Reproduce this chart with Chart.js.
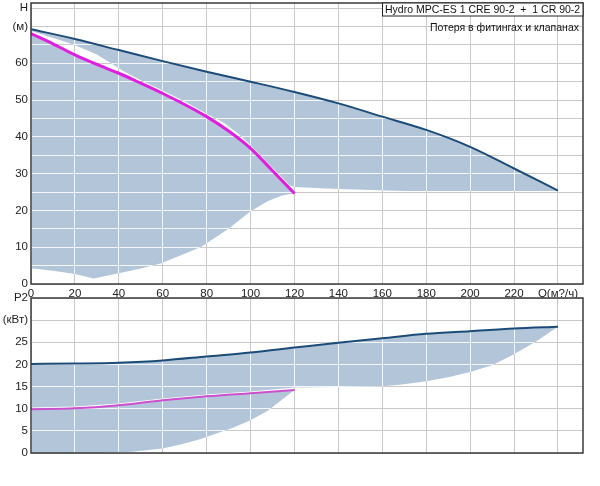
<!DOCTYPE html>
<html>
<head>
<meta charset="utf-8">
<script src="https://cdn.jsdelivr.net/npm/chart.js@4.4.0/dist/chart.umd.min.js"></script>
<style>
  body { margin: 0; background: #fff; width: 600px; height: 486px; overflow: hidden; position: relative; }
  canvas { position: absolute; left: 0; }
  #headChart { top: 0; }
  #powerChart { top: 290px; }
</style>
</head>
<body>
<canvas id="headChart" width="600" height="300"></canvas>
<canvas id="powerChart" width="600" height="196"></canvas>
<script>
// Flow axis (m3/h), shared by both charts
const qTicks = [0, 20, 40, 60, 80, 100, 120, 140, 160, 180, 200, 220, 240];
const qLabels = ['0', '20', '40', '60', '80', '100', '120', '140', '160', '180', '200', '220', 'Q(м?/ч)'];

// Head chart axis
const hTicks = [0, 5, 10, 15, 20, 25, 30, 35, 40, 45, 50, 55, 60, 65, 70, 75];
const hLabels = ['0', '', '10', '', '20', '', '30', '', '40', '', '50', '', '60', '', '(м)', 'H'];

// Head: both pumps running (dark blue)
const qTwo = [0, 20, 40, 60, 80, 100, 120, 140, 160, 180, 200, 220, 240];
const hTwo = [69.3, 66.6, 63.6, 60.6, 57.7, 55.0, 52.2, 49.1, 45.5, 41.9, 37.3, 31.4, 25.4];
// Head: one pump (magenta)
const qOne = [0, 10, 20, 30, 40, 50, 60, 70, 80, 90, 100, 110, 120];
const hOne = [68.1, 65.3, 62.3, 59.7, 57.3, 54.6, 51.8, 48.8, 45.5, 41.6, 36.9, 30.8, 24.6];
// lower edges of the shaded operating areas
const qTwoEdge = [0, 8, 19, 30, 42, 50, 60, 70, 80, 88, 95, 100, 110, 118, 120, 140, 170, 240];
const hTwoEdge = [68.8, 67.3, 65.2, 62.4, 57.9, 55.4, 52.6, 49.6, 46.3, 43.8, 40.6, 37.7, 31.6, 26.8, 26.4, 25.8, 25.3, 25.3];
const qOneEdge = [0, 10, 20, 28.5, 40, 50, 59, 70, 77.6, 90, 100, 108, 114, 120];
const hOneEdge = [4.3, 3.6, 2.7, 1.5, 2.9, 4.2, 5.6, 8.2, 10.1, 15.0, 19.8, 22.6, 24.0, 24.7];

// Power chart axis
const pTicks = [0, 5, 10, 15, 20, 25, 30, 35];
const pLabels = ['0', '5', '10', '15', '20', '25', '(кВт)', 'P2'];

// Power P2
const pTwo = [20.1, 20.2, 20.4, 20.9, 21.8, 22.7, 23.8, 24.9, 25.9, 26.9, 27.5, 28.1, 28.5];
const qP1 = [0, 20, 40, 60, 80, 100, 120];
const pOne = [9.9, 10.1, 10.8, 11.9, 12.8, 13.5, 14.2];
const qP2Edge = [0, 20, 40, 60, 80, 100, 120, 140, 160, 168, 180, 190, 200, 210, 220, 230, 240];
const pTwoEdge = [10.3, 10.5, 11.2, 12.3, 13.2, 13.9, 14.8, 14.9, 15.1, 15.4, 16.2, 17.1, 18.3, 19.8, 22.3, 25.2, 28.5];
const qP1Edge = [0, 30, 46, 60, 68, 77, 92, 100, 108, 115, 120];
const pOneEdge = [0, 0, 0.3, 1.0, 1.9, 3.1, 5.7, 7.4, 9.6, 12.3, 14.2];

const legendTitle = 'Hydro MPC-ES 1 CRE 90-2  +  1 CR 90-2';
const legendNote = 'Потеря в фитингах и клапанах';

const AREA = '#b3c6d9';
const BLUE = '#1d4b78';
const GRID = '#c9c9c9';

Chart.defaults.font.family = 'Liberation Sans';
Chart.defaults.font.size = 11.5;
Chart.defaults.color = '#222';

function pts(qs, vs) {
    return qs.map((q, i) => ({ x: q, y: vs[i] }));
}

// closed outline: top edge left->right, then lower edge back
function area(qTop, vTop, qLow, vLow) {
    return pts(qTop, vTop).concat(pts(qLow, vLow).reverse());
}

function curve(data, color, width) {
    return { data: data, borderColor: color, borderWidth: width, pointRadius: 0, fill: false,
             cubicInterpolationMode: 'monotone' };
}

function shaded(data) {
    return { data: data, borderColor: 'rgba(0,0,0,0)', borderWidth: 0, backgroundColor: AREA, pointRadius: 0, fill: 'shape' };
}

// grid lines show white where they cross the shaded area
const whiteGrid = {
    id: 'whiteGrid',
    afterDatasetDraw(chart, args) {
        if (args.index !== 2) return;
        const ctx = chart.ctx, a = chart.chartArea;
        const al = v => Math.round(v - 0.5) + 0.5;
        ctx.save();
        ctx.beginPath();
        [2, 3].forEach(i => {
            chart.getDatasetMeta(i).data.forEach((p, k) => k ? ctx.lineTo(p.x, p.y) : ctx.moveTo(p.x, p.y));
            ctx.closePath();
        });
        ctx.clip();
        ctx.strokeStyle = '#f4f7fa';
        ctx.lineWidth = 1;
        ctx.beginPath();
        chart.scales.x.ticks.forEach(t => {
            const x = al(chart.scales.x.getPixelForValue(t.value));
            ctx.moveTo(x, a.top); ctx.lineTo(x, a.bottom);
        });
        chart.scales.y.ticks.forEach(t => {
            const y = al(chart.scales.y.getPixelForValue(t.value));
            ctx.moveTo(a.left, y); ctx.lineTo(a.right, y);
        });
        ctx.stroke();
        ctx.restore();
    }
};

const frame = {
    id: 'frame',
    afterDraw(chart) {
        const ctx = chart.ctx, a = chart.chartArea;
        ctx.save();
        ctx.strokeStyle = '#3a3a3a';
        ctx.lineWidth = 1.5;
        ctx.strokeRect(a.left, a.top, a.right - a.left, a.bottom - a.top);
        ctx.restore();
    }
};

const legendBox = {
    id: 'legendBox',
    afterDraw(chart) {
        const ctx = chart.ctx, a = chart.chartArea;
        ctx.save();
        ctx.font = '10.5px "Liberation Sans"';
        ctx.fillStyle = '#fff';
        ctx.fillRect(382, a.top, a.right - 382, 13);
        ctx.strokeStyle = '#222';
        ctx.lineWidth = 1;
        ctx.strokeRect(382.5, a.top, a.right - 382.5, 13);
        ctx.fillStyle = '#111';
        ctx.textBaseline = 'middle';
        ctx.textAlign = 'left';
        ctx.fillText(legendTitle, 385, a.top + 7);
        ctx.textAlign = 'right';
        ctx.fillText(legendNote, a.right - 4, a.top + 25);
        ctx.restore();
    }
};

function xScale(showLabels, height) {
    return {
        type: 'linear', min: 0, max: 251.4,
        afterBuildTicks: s => { s.ticks = qTicks.map(v => ({ value: v })); },
        afterFit: s => { s.height = height; s.paddingLeft = 0; s.paddingRight = 0; },
        grid: { color: GRID, drawTicks: false },
        border: { display: false },
        ticks: {
            display: showLabels, padding: 3, maxRotation: 0, autoSkip: false,
            callback: v => qLabels[qTicks.indexOf(v)]
        }
    };
}

function yScale(max, tickVals, tickLabels) {
    return {
        min: 0, max: max,
        afterBuildTicks: s => { s.ticks = tickVals.map(v => ({ value: v })); },
        afterFit: s => { s.width = 31; s.paddingTop = 0; s.paddingBottom = 0; },
        grid: { color: GRID, drawTicks: false },
        border: { display: false },
        ticks: { padding: 3, autoSkip: false, callback: v => tickLabels[tickVals.indexOf(v)] }
    };
}

new Chart(document.getElementById('headChart'), {
    type: 'line',
    data: {
        datasets: [
            curve(pts(qTwo, hTwo), BLUE, 2),
            curve(pts(qOne, hOne), '#e01ee0', 3),
            shaded(area(qTwo, hTwo, qTwoEdge, hTwoEdge)),
            shaded(area(qOne, hOne, qOneEdge, hOneEdge))
        ]
    },
    options: {
        responsive: false, animation: false, devicePixelRatio: 1,
        layout: { padding: { top: 3, right: 17, left: 0, bottom: 0 } },
        plugins: { legend: { display: false }, tooltip: { enabled: false } },
        scales: { x: xScale(true, 16), y: yScale(76.4, hTicks, hLabels) }
    },
    plugins: [whiteGrid, frame, legendBox]
});

new Chart(document.getElementById('powerChart'), {
    type: 'line',
    data: {
        datasets: [
            curve(pts(qTwo, pTwo), BLUE, 2),
            curve(pts(qP1, pOne), '#cc4fcc', 2),
            shaded(area(qTwo, pTwo, qP2Edge, pTwoEdge)),
            shaded(area(qP1, pOne, qP1Edge, pOneEdge))
        ]
    },
    options: {
        responsive: false, animation: false, devicePixelRatio: 1,
        layout: { padding: { top: 8, right: 17, left: 0, bottom: 0 } },
        plugins: { legend: { display: false }, tooltip: { enabled: false } },
        scales: { x: xScale(false, 33), y: yScale(35, pTicks, pLabels) }
    },
    plugins: [whiteGrid, frame]
});
</script>
</body>
</html>
